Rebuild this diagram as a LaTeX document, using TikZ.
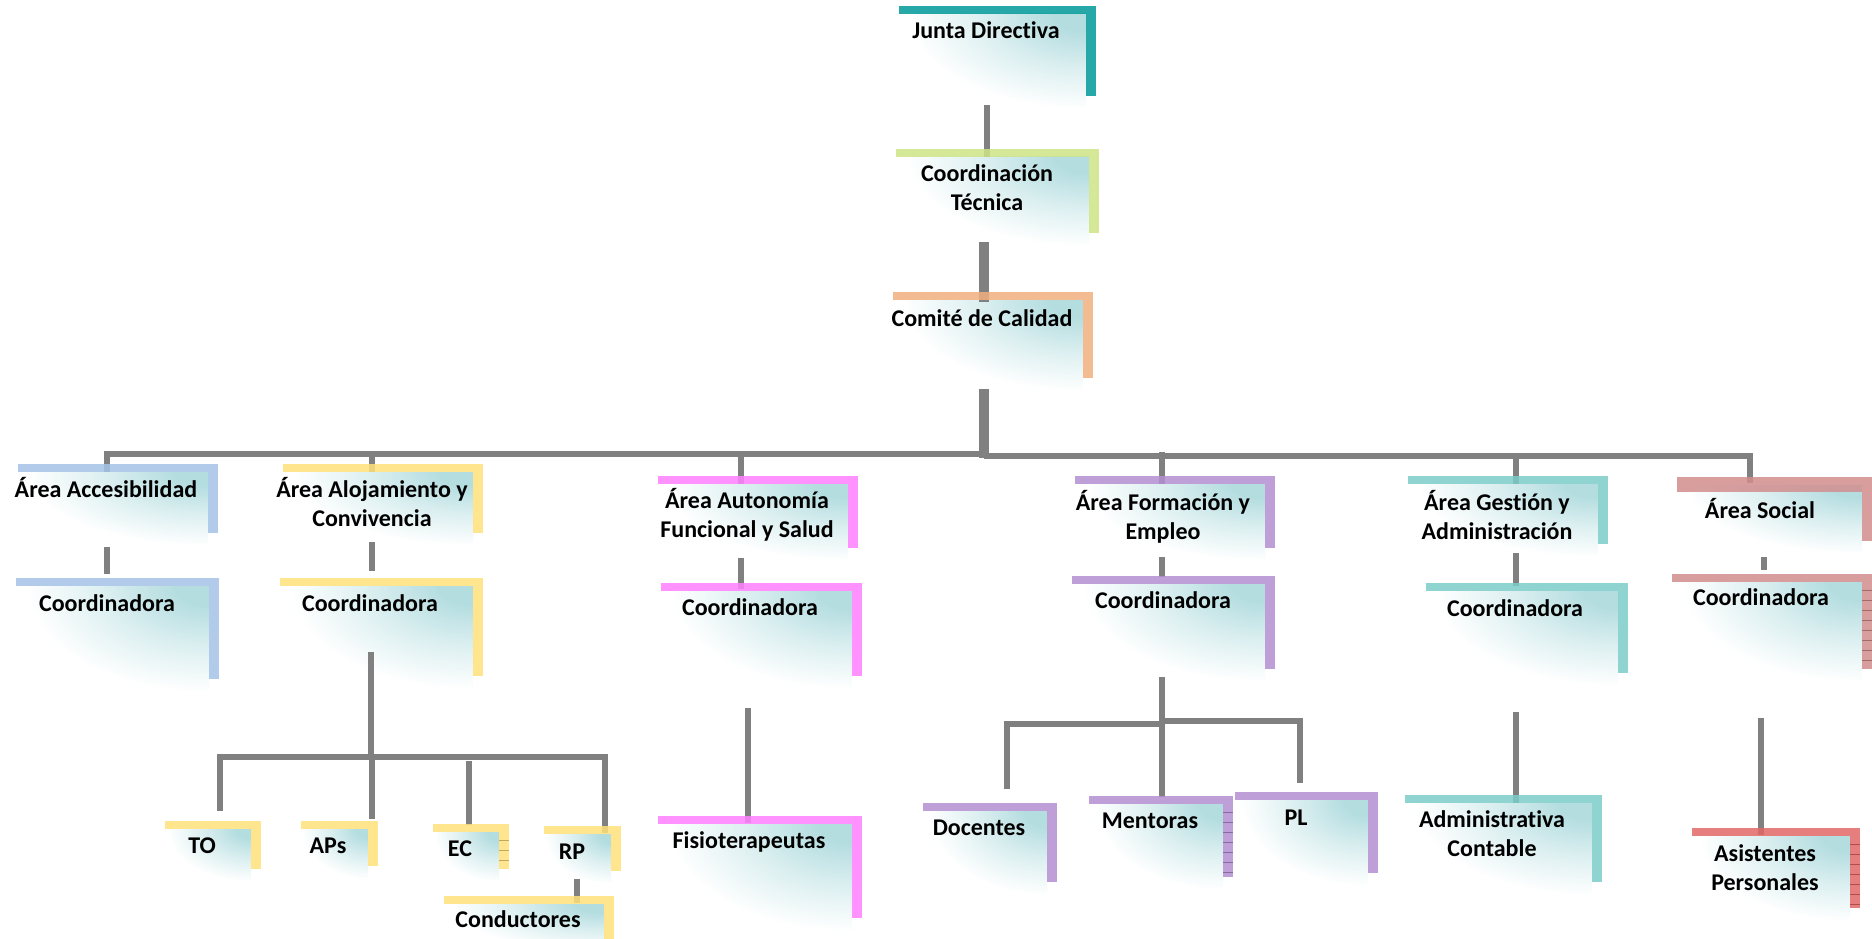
\documentclass[tikz,border=0pt]{standalone}
\usepackage{fontspec}
\setmainfont{Carlito}[Ligatures={NoCommon}]
\pgfdeclarelayer{bg}\pgfdeclarelayer{fg}
\pgfsetlayers{bg,main,fg}
\definecolor{conncol}{RGB}{128,128,128}
\definecolor{shadecol}{RGB}{180,221,224}
\definecolor{cJunta}{RGB}{0,153,153}
\definecolor{cGreen}{RGB}{206,228,134}
\definecolor{cOrange}{RGB}{242,176,128}
\definecolor{cBlue}{RGB}{165,195,232}
\definecolor{cYellow}{RGB}{255,225,122}
\definecolor{cMagenta}{RGB}{255,128,255}
\definecolor{cPurple}{RGB}{180,143,210}
\definecolor{cTeal}{RGB}{124,205,200}
\definecolor{cRose}{RGB}{210,142,142}
\definecolor{cRed}{RGB}{226,104,104}
\pgfdeclareradialshading{boxrad}{\pgfpoint{0bp}{0bp}}{color(0bp)=(shadecol); color(4bp)=(shadecol); color(13bp)=(shadecol!45!white); color(22bp)=(white); color(50bp)=(white)}
\tikzset{
  conn/.style={draw=conncol, line width=6pt},
  connthick/.style={draw=conncol, line width=10pt},
  boxlabel/.style={inner sep=0pt, anchor=north, align=center, font=\fontsize{24}{29}\selectfont\bfseries},
  framecol/.style={fill=#1, fill opacity=0.85},
}
% name, x1, y1, x2, y2, colour, text x, text y, text
\newcommand\obox[9]{%
  \pgfmathsetmacro\obw{(#4-10)-(#2-5)}%
  \pgfmathsetmacro\obh{(#5+12)-(#3+8)}%
  \pgfmathsetmacro\obrx{1.05*\obw}%
  \pgfmathsetmacro\obry{1.15*\obh}%
  \begin{pgfonlayer}{bg}
    \begin{scope}
      \clip (#2-5,#3+8) rectangle (#4-10,#5+12);
      \shade[shading=boxrad] (#4-10,#3+8) ellipse ({\obrx pt} and {\obry pt});
    \end{scope}
    \node[name=#1, inner sep=0pt, minimum width=\obw pt, minimum height=\obh pt, anchor=north west] at (#2-5,#3+8) {};
  \end{pgfonlayer}
  \begin{pgfonlayer}{fg}
    \fill[framecol=#6] (#2,#3) rectangle (#4,#3+8);
    \fill[framecol=#6] (#4-10,#3+8) rectangle (#4,#5);
    \node[boxlabel, name=#1-label] at (#7,#8-12) {\strut #9};
  \end{pgfonlayer}
}
% x2, y1, y2, colour
\newcommand\ostripes[4]{%
  \pgfmathsetmacro\osa{#2+16}%
  \pgfmathsetmacro\osb{#2+26}%
  \pgfmathsetmacro\osc{#3-3}%
  \begin{pgfonlayer}{fg}
    \foreach \yy in {\osa,\osb,...,\osc} \draw[#4!75!black, line width=0.7pt] (#1-10,\yy) -- (#1,\yy);
  \end{pgfonlayer}
}
\begin{document}
\begin{tikzpicture}[x=1pt, y=-1pt]
\useasboundingbox (0,0) rectangle (1872,939);
\begin{pgfonlayer}{bg}
  \fill[white] (0,0) rectangle (1872,939);
\end{pgfonlayer}

% top chain
\obox{junta}{899}{6}{1096}{96}{cJunta}{986}{30}{Junta Directiva}
\obox{coordtec}{896}{149}{1099}{233}{cGreen}{987}{173}{Coordinación\\Técnica}
\obox{comite}{893}{292}{1093}{378}{cOrange}{982}{318}{Comité de Calidad}

% areas
\obox{acc}{18}{464}{218}{533}{cBlue}{106}{489}{Área Accesibilidad}
\obox{aloj}{283}{464}{483}{533}{cYellow}{372}{489}{Área Alojamiento y\\Convivencia}
\obox{auto}{658}{476}{858}{548}{cMagenta}{747}{500}{Área Autonomía\\Funcional y Salud}
\obox{form}{1075}{476}{1275}{548}{cPurple}{1163}{502}{Área Formación y\\Empleo}
\obox{gest}{1408}{476}{1608}{544}{cTeal}{1497}{502}{Área Gestión y\\Administración}
\obox{social}{1677}{477}{1872}{541}{cRose}{1760}{510}{Área Social}
\begin{pgfonlayer}{fg}
  \fill[framecol=cRose] (1677,485) rectangle (1862,492);
\end{pgfonlayer}

% coordinadoras
\obox{acccoord}{16}{578}{219}{679}{cBlue}{107}{603}{Coordinadora}
\obox{alojcoord}{280}{578}{483}{676}{cYellow}{370}{603}{Coordinadora}
\obox{autocoord}{661}{583}{862}{676}{cMagenta}{750}{607}{Coordinadora}
\obox{formcoord}{1072}{576}{1275}{669}{cPurple}{1163}{600}{Coordinadora}
\obox{gestcoord}{1426}{583}{1628}{673}{cTeal}{1515}{608}{Coordinadora}
\obox{socialcoord}{1672}{574}{1872}{669}{cRose}{1761}{597}{Coordinadora}
\ostripes{1872}{574}{669}{cRose}

% lower level
\obox{to}{165}{821}{261}{869}{cYellow}{202}{845}{TO}
\obox{aps}{301}{821}{378}{866}{cYellow}{328}{845}{APs}
\obox{ec}{433}{824}{509}{869}{cYellow}{460}{848}{EC}
\ostripes{509}{824}{869}{cYellow}
\obox{rp}{544}{826}{621}{871}{cYellow}{572}{851}{RP}
\obox{cond}{444}{896}{614}{939}{cYellow}{518}{919}{Conductores}
\obox{fisio}{658}{816}{862}{918}{cMagenta}{749}{840}{Fisioterapeutas}
\obox{doc}{923}{803}{1057}{882}{cPurple}{979}{827}{Docentes}
\obox{ment}{1089}{796}{1233}{877}{cPurple}{1150}{820}{Mentoras}
\ostripes{1233}{796}{877}{cPurple}
\obox{pl}{1235}{792}{1378}{873}{cPurple}{1296}{817}{PL}
\obox{admin}{1405}{795}{1602}{882}{cTeal}{1492}{819}{Administrativa\\Contable}
\obox{asist}{1692}{828}{1860}{908}{cRed}{1765}{853}{Asistentes\\Personales}
\ostripes{1860}{828}{908}{cRed}

% connectors
\draw[conn] (987,105) -- (987,157);
\draw[connthick] (984,242) -- (984,302);
\draw[connthick] (984,389) -- (984,458);
\draw[conn] (104,454) -- (984,454);
\draw[conn] (984,456) -- (1753,456);
\draw[conn] (107,454) -- (107,472);
\draw[conn] (372,454) -- (372,472);
\draw[conn] (741,454) -- (741,484);
\draw[conn] (1162,452) -- (1162,484);
\draw[conn] (1516,458) -- (1516,484);
\draw[conn] (1750,456) -- (1750,483);

\draw[conn] (107,547) -- (107,574);
\draw[conn] (372,542) -- (372,571);
\draw[conn] (741,558) -- (741,589);
\draw[conn] (1162,557) -- (1162,577);
\draw[conn] (1516,553) -- (1516,586);
\draw[conn] (1764,557) -- (1764,570);

% alojamiento subtree
\draw[conn] (371,652) -- (371,757);
\draw[conn] (217,757) -- (608,757);
\draw[conn] (220,757) -- (220,811);
\draw[conn] (372,757) -- (372,819);
\draw[conn] (469,761) -- (469,825);
\draw[conn] (605,757) -- (605,833);
\draw[conn] (577,879) -- (577,903);

% autonomia subtree
\draw[conn] (748,708) -- (748,823);

% formacion subtree
\draw[conn] (1162,677) -- (1162,797);
\draw[conn] (1004,724) -- (1162,724);
\draw[conn] (1162,721) -- (1303,721);
\draw[conn] (1007,724) -- (1007,789);
\draw[conn] (1300,721) -- (1300,783);

% gestion and social subtrees
\draw[conn] (1516,712) -- (1516,803);
\draw[conn] (1761,718) -- (1761,835);
\end{tikzpicture}
\end{document}
